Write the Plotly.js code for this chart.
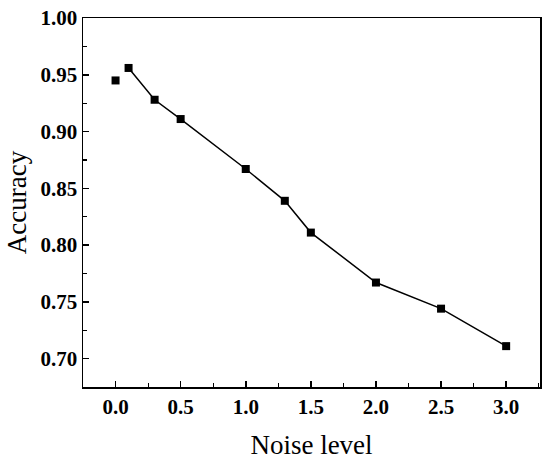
<!DOCTYPE html>
<html>
<head>
<meta charset="utf-8">
<script src="https://cdn.plot.ly/plotly-3.0.1.min.js"></script>
<style>html,body{margin:0;padding:0;background:#fff;}#chart{width:550px;height:463px;}</style>
</head>
<body>
<div id="chart"></div>
<script>
const noiseLevel = [0.0, 0.1, 0.3, 0.5, 1.0, 1.3, 1.5, 2.0, 2.5, 3.0];
const accuracy = [0.945, 0.956, 0.928, 0.911, 0.867, 0.839, 0.811, 0.767, 0.744, 0.711];
const xTicks = [0.0, 0.5, 1.0, 1.5, 2.0, 2.5, 3.0];
const xTickLabels = ['0.0', '0.5', '1.0', '1.5', '2.0', '2.5', '3.0'];
const yTicks = [0.70, 0.75, 0.80, 0.85, 0.90, 0.95, 1.00];
const yTickLabels = ['0.70', '0.75', '0.80', '0.85', '0.90', '0.95', '1.00'];

const traces = [
  {
    x: noiseLevel.slice(1), y: accuracy.slice(1),
    type: 'scatter', mode: 'lines',
    line: {color: '#000', width: 1.5},
    hoverinfo: 'skip', showlegend: false
  },
  {
    x: noiseLevel, y: accuracy,
    type: 'scatter', mode: 'markers',
    marker: {symbol: 'square', size: 8, color: '#000'},
    showlegend: false
  }
];

const fontFam = 'Liberation Serif, serif';
const layout = {
  width: 550, height: 463,
  margin: {l: 83, r: 10, t: 18, b: 76},
  paper_bgcolor: '#fff', plot_bgcolor: '#fff',
  font: {family: fontFam, color: '#000'},
  xaxis: {
    range: [-0.25, 3.26],
    tickvals: xTicks, ticktext: xTickLabels,
    ticks: 'inside', ticklen: 6, tickwidth: 1.5, tickcolor: '#000',
    minor: {dtick: 0.25, tick0: 0, ticks: 'inside', ticklen: 4, tickwidth: 1.2, tickcolor: '#000', showgrid: false},
    showline: true, linecolor: '#000', linewidth: 1.5, mirror: true,
    showgrid: false, zeroline: false,
    tickfont: {family: fontFam, size: 21, color: '#000', weight: 'bold'},
    title: {text: 'Noise level', font: {family: fontFam, size: 27, color: '#000'}, standoff: 17}
  },
  yaxis: {
    range: [0.675, 1.0],
    tickvals: yTicks, ticktext: yTickLabels,
    ticks: 'inside', ticklen: 6, tickwidth: 1.5, tickcolor: '#000',
    minor: {dtick: 0.025, tick0: 0.7, ticks: 'inside', ticklen: 4, tickwidth: 1.2, tickcolor: '#000', showgrid: false},
    showline: true, linecolor: '#000', linewidth: 1.5, mirror: true,
    showgrid: false, zeroline: false,
    tickfont: {family: fontFam, size: 21, color: '#000', weight: 'bold'},
    title: {text: 'Accuracy', font: {family: fontFam, size: 27, color: '#000'}, standoff: 6}
  }
};

Plotly.newPlot('chart', traces, layout, {displayModeBar: false, staticPlot: true});
</script>
</body>
</html>
